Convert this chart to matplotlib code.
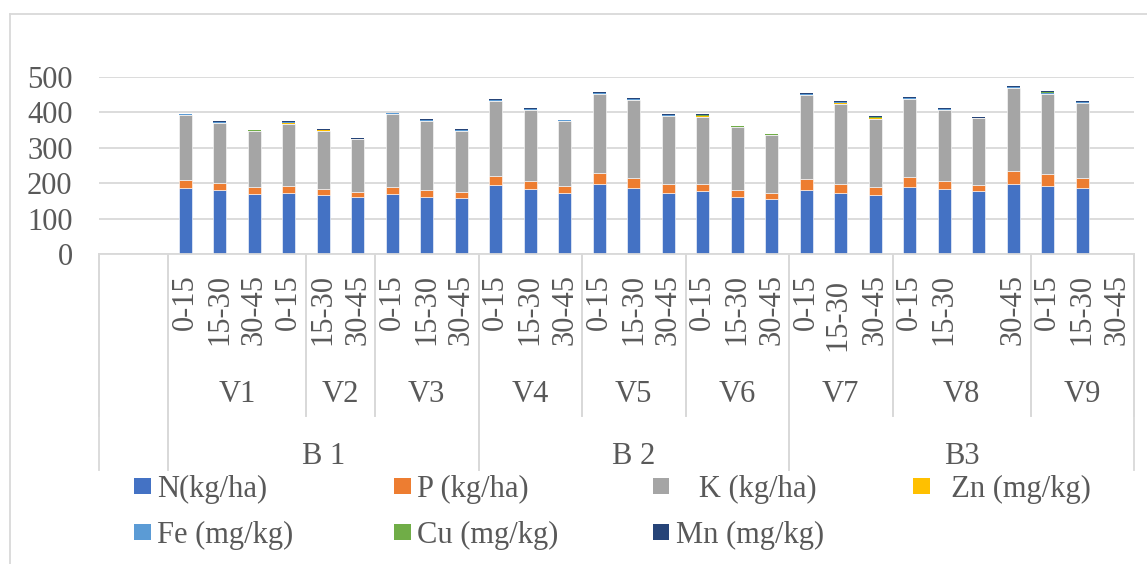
import numpy as np
import matplotlib
matplotlib.use("Agg")
import matplotlib.pyplot as plt
from matplotlib import transforms
from matplotlib.patches import Rectangle
from matplotlib.lines import Line2D

plt.rcParams['font.family'] = ['Liberation Serif', 'DejaVu Serif']

# category axis, three levels (first two slots are blank in the original)
depth = ['', '',
         '0-15', '15-30', '30-45', '0-15',
         '15-30', '30-45',
         '0-15', '15-30', '30-45',
         '0-15', '15-30', '30-45',
         '0-15', '15-30', '30-45',
         '0-15', '15-30', '30-45',
         '0-15', '15-30 ', '30-45',
         '0-15', '15-30', '', '30-45',
         '0-15', '15-30', '30-45']
variety = ['', ''] + ['V1'] * 4 + ['V2'] * 2 + ['V3'] * 3 + ['V4'] * 3 + ['V5'] * 3 \
    + ['V6'] * 3 + ['V7'] * 3 + ['V8'] * 4 + ['V9'] * 3
block = ['', ''] + ['B 1'] * 9 + ['B 2'] * 9 + ['B3'] * 10

_ = None
N = [_, _, 187, 179.5, 170, 173, 167, 161.6, 169, 161.7, 158, 193.6, 182, 171, 197, 185, 173,
     176.7, 161.7, 156, 181, 172, 166, 189, 184, 176.7, 196, 191.7, 186, _]
P = [_, _, 21.6, 19.5, 19, 20, 16, 13.4, 20, 17.8, 16, 27.4, 25, 21.7, 32, 30, 25,
     21.3, 19.3, 16, 30, 26, 23, 28, 21.8, 17.8, 38, 34.8, 29, _]
K = [_, _, 183.4, 171, 157, 175, 165, 148, 205, 195.5, 172, 210, 199, 182.3, 221, 219, 191,
     189, 177, 162.6, 236, 226, 192.6, 219.8, 200.2, 188, 233, 223.5, 209.8, _]
Zn = [_, _, 0.6, 0.6, 0.6, 0.9, 0.6, 0.6, 0.8, 0.8, 0.9, 0.9, 0.9, 0.6, 1.0, 0.8, 0.9,
      1.0, 0.5, 0.7, 1.1, 1.1, 1.0, 0.8, 0.9, 0.5, 1.0, 1.3, 0.9, _]
Fe = [_, _, 1.3, 1.4, 1.4, 2.1, 1.4, 1.4, 1.7, 2.0, 2.1, 2.1, 2.0, 1.3, 2.4, 1.7, 2.0,
      2.4, 1.0, 1.5, 2.4, 2.4, 2.2, 1.7, 2.0, 1.2, 2.3, 3.0, 2.2, _]
Cu = [_, _, 0.5, 0.6, 0.6, 0.9, 0.6, 0.6, 0.8, 0.8, 0.9, 0.9, 0.8, 0.6, 1.0, 0.8, 0.8,
      1.0, 0.5, 0.7, 1.1, 1.1, 1.0, 0.8, 0.8, 0.6, 1.0, 1.3, 0.9, _]
Mn = [_, _, 1.3, 1.4, 1.4, 2.1, 1.4, 1.4, 1.7, 2.0, 2.1, 2.1, 2.0, 1.3, 2.4, 1.7, 2.0,
      2.4, 1.0, 1.5, 2.4, 2.4, 2.2, 1.7, 2.0, 1.2, 2.4, 3.0, 2.2, _]

names = ['N(kg/ha)', 'P (kg/ha)', '   K (kg/ha)', '  Zn (mg/kg)',
         'Fe (mg/kg)', 'Cu (mg/kg)', 'Mn (mg/kg)']
colors = ['#4472C4', '#ED7D31', '#A5A5A5', '#FFC000', '#5B9BD5', '#70AD47', '#264478']
series = [N, P, K, Zn, Fe, Cu, Mn]

W, H = 1147, 564
TXT = '#595959'
GRID = '#D9D9D9'
FS = 22

fig = plt.figure(figsize=(W / 100, H / 100), dpi=100)
ax = fig.add_axes([99 / W, 1 - 254 / H, (1134 - 99) / W, (254 - 76.7) / H])

x = np.arange(len(depth))
bottom = np.zeros(len(depth))
for k, (vals, col) in enumerate(zip(series, colors)):
    v = np.array(vals, dtype=float)
    m = ~np.isnan(v)
    # thin light outline only on the big segments, the micro ones are too thin
    lw = 0.4 if k < 3 else 0
    ax.bar(x[m], v[m], width=0.39, bottom=bottom[m], color=col,
           edgecolor='white', linewidth=lw)
    bottom[m] += v[m]

ax.set_xlim(-0.5, len(depth) - 0.5)
ax.set_ylim(0, 500)
ax.set_yticks(range(0, 501, 100))
ax.tick_params(axis='y', length=0, pad=19, labelsize=FS, labelcolor=TXT)
ax.set_xticks([])
ax.yaxis.grid(True, color=GRID, linewidth=1.3)
ax.set_axisbelow(True)
for s in ['top', 'right', 'left']:
    ax.spines[s].set_visible(False)
ax.spines['bottom'].set_color(GRID)
ax.spines['bottom'].set_linewidth(1.3)


def fy(p):
    return 1 - p / H


tr = transforms.blended_transform_factory(ax.transData, fig.transFigure)

# category labels
for i, lab in enumerate(depth):
    if lab:
        ax.text(i, fy(274), lab, transform=tr, rotation=90, ha='center', va='top',
                fontsize=FS, color=TXT)


def spans(labels):
    out = []
    start = 0
    for i in range(1, len(labels) + 1):
        if i == len(labels) or labels[i] != labels[start]:
            out.append((labels[start], start, i))
            start = i
    return out


for lab, a, b in spans(variety):
    if lab:
        ax.text((a + b - 1) / 2, fy(395), lab, transform=tr, ha='center', va='center',
                fontsize=FS, color=TXT)
for lab, a, b in spans(block):
    if lab:
        ax.text((a + b - 1) / 2, fy(456), lab, transform=tr, ha='center', va='center',
                fontsize=FS, color=TXT)

# divider lines of the category table
for lab, a, b in spans(variety):
    for edge in (a, b):
        ax.add_line(Line2D([edge - 0.5, edge - 0.5], [fy(254), fy(416)], transform=tr,
                           color=GRID, linewidth=1.3, clip_on=False))
for lab, a, b in spans(block):
    for edge in (a, b):
        ax.add_line(Line2D([edge - 0.5, edge - 0.5], [fy(254), fy(470)], transform=tr,
                           color=GRID, linewidth=1.3, clip_on=False))

# legend, laid out as in the original
col_x = [134, 394, 653, 913]
row_base = [497, 543]
for k, (name, col) in enumerate(zip(names, colors)):
    r, c = divmod(k, 4)
    mx = col_x[c]
    fig.patches.append(Rectangle((mx / W, fy(row_base[r] - 3)), 16.5 / W, 16.5 / H,
                                 transform=fig.transFigure, facecolor=col, edgecolor='none'))
    fig.text((mx + 22.7) / W, fy(row_base[r]), name, ha='left', va='baseline',
             fontsize=FS, color=TXT)

# chart area border
fig.add_artist(Line2D([9.5 / W, 9.5 / W], [fy(14), 0], color=GRID, linewidth=1.3))
fig.add_artist(Line2D([9.5 / W, 1], [fy(14), fy(14)], color=GRID, linewidth=1.3))

fig.savefig('out.png', dpi=100)
